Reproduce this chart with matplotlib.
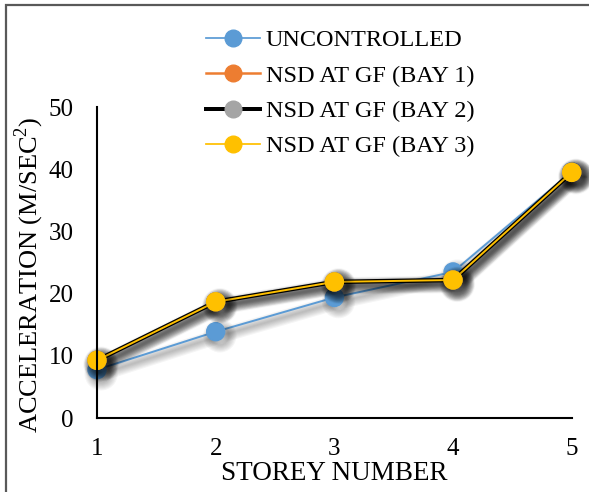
import matplotlib
matplotlib.use("Agg")
import matplotlib.pyplot as plt
import matplotlib.patheffects as pe
from matplotlib.patches import Rectangle

plt.rcParams['font.family'] = ['Liberation Serif', 'DejaVu Serif']
plt.rcParams['mathtext.fontset'] = 'custom'
plt.rcParams['mathtext.rm'] = 'Liberation Serif'

storeys = [1, 2, 3, 4, 5]
uncontrolled = [7.8, 13.9, 19.4, 23.5, 39.6]
bay1 = [9.3, 18.7, 21.9, 22.2, 39.5]
bay2 = [9.3, 18.7, 21.9, 22.2, 39.5]
bay3 = [9.3, 18.7, 21.9, 22.2, 39.5]


def shadow(lw):
    # soft drop shadow like the Excel effect
    effects = []
    for k in range(7):
        effects.append(pe.SimpleLineShadow(offset=(3, -3), shadow_color='black',
                                           alpha=0.04, linewidth=lw + 1.6 * k))
    effects.append(pe.Normal())
    return effects


fig = plt.figure(figsize=(5.89, 4.92), dpi=100)
ax = fig.add_axes([0.1647, 0.150, 0.806, 0.6325])

series = [
    (uncontrolled, '#5B9BD5', '#5B9BD5', 1.4, 'UNCONTROLLED'),
    (bay1, '#ED7D31', '#ED7D31', 2.0, 'NSD AT GF (BAY 1)'),
    (bay2, 'black', '#A5A5A5', 3.2, 'NSD AT GF (BAY 2)'),
    (bay3, '#FFC000', '#FFC000', 1.4, 'NSD AT GF (BAY 3)'),
]
handles = []
for vals, lc, mc, lw, name in series:
    ax.plot(storeys, vals, color=lc, lw=lw, marker='o', markersize=13,
            markerfacecolor=mc, markeredgecolor=mc,
            path_effects=shadow(lw), clip_on=False)
    h, = ax.plot([], [], color=lc, lw=lw * 0.9, marker='o', markersize=12,
                 markerfacecolor=mc, markeredgecolor=mc, label=name)
    handles.append(h)

ax.set_xlim(1, 5)
ax.set_ylim(0, 50)
ax.set_xticks(storeys)
ax.set_yticks(range(0, 51, 10))
ax.tick_params(length=0, labelsize=18)
ax.tick_params(axis='x', pad=14)
ax.tick_params(axis='y', pad=17)
for s in ['top', 'right']:
    ax.spines[s].set_visible(False)
for s in ['left', 'bottom']:
    ax.spines[s].set_linewidth(1.5)
    ax.spines[s].set_color('black')

ax.set_xlabel('STOREY NUMBER', fontsize=19.5)
ax.xaxis.set_label_coords(0.5, -0.177)
ax.xaxis.label.set_va('center')
ax.set_ylabel('ACCELERATION (M/SEC$^{2}$)', fontsize=19)
ax.yaxis.set_label_coords(-0.107, 0.46)

fig.legend(handles=handles, loc='upper left', bbox_to_anchor=(0.313, 0.985),
           frameon=False, fontsize=17.5, handlelength=2.2, handletextpad=0.25,
           labelspacing=0.55)

fig.patches.append(Rectangle((6 / 589, -0.1), 1.2, 1.1 - 5 / 492,
                             transform=fig.transFigure, fill=False,
                             edgecolor='#595959', lw=1.6))

fig.savefig('out.png', dpi=100)
